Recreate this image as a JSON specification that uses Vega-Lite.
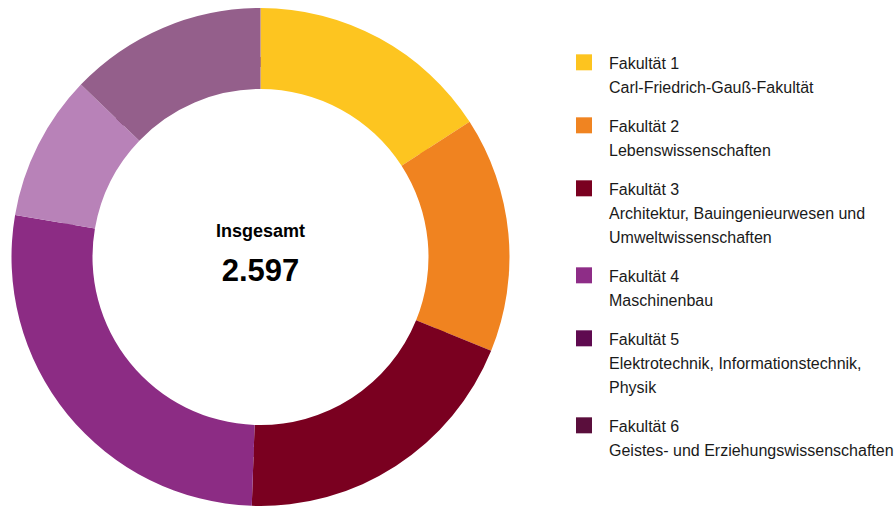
{
  "$schema": "https://vega.github.io/schema/vega-lite/v6.json",
  "width": 521,
  "height": 514,
  "padding": 0,
  "autosize": {"type": "pad"},
  "background": "white",
  "config": {
    "view": {"stroke": null},
    "font": "Liberation Sans",
    "locale": {"number": {"decimal": ",", "thousands": ".", "grouping": [3], "currency": ["", " €"]}}
  },
  "data": {
    "values": [
      {"fakultaet": "Fakultät 1|Carl-Friedrich-Gauß-Fakultät", "studierende": 412},
      {"fakultaet": "Fakultät 2|Lebenswissenschaften", "studierende": 397},
      {"fakultaet": "Fakultät 3|Architektur, Bauingenieurwesen und|Umweltwissenschaften", "studierende": 504},
      {"fakultaet": "Fakultät 4|Maschinenbau", "studierende": 705},
      {"fakultaet": "Fakultät 5|Elektrotechnik, Informationstechnik,|Physik", "studierende": 246},
      {"fakultaet": "Fakultät 6|Geistes- und Erziehungswissenschaften", "studierende": 333}
    ]
  },
  "layer": [
    {
      "mark": {"type": "arc", "outerRadius": 200, "innerRadius": 190},
      "encoding": {
        "theta": {"field": "studierende", "type": "quantitative", "stack": true},
        "order": {"field": "fakultaet", "type": "ordinal"},
        "color": {
          "field": "fakultaet",
          "type": "nominal",
          "scale": {"range": ["#FDC41F", "#F08421", "#7A0020", "#8E2D87", "#5F0A50", "#5A0E3C"]},
          "legend": {
            "orient": "none",
            "legendX": 576,
            "legendY": 48,
            "title": null,
            "padding": 0,
            "symbolType": "M-1,-0.21H1V1.79H-1Z",
            "symbolSize": 256,
            "symbolOpacity": 1,
            "symbolStrokeWidth": 0,
            "labelExpr": "split(datum.label, '|')",
            "labelFont": "Liberation Sans",
            "labelFontSize": 16,
            "labelBaseline": "top",
            "labelOffset": 17,
            "labelLimit": 400,
            "labelColor": "#1a1a1a",
            "rowPadding": 15,
            "encode": {"labels": {"update": {"lineHeight": {"value": 24}}}}
          }
        }
      }
    },
    {
      "mark": {"type": "arc", "outerRadius": 249, "innerRadius": 168},
      "encoding": {
        "theta": {"field": "studierende", "type": "quantitative", "stack": true},
        "order": {"field": "fakultaet", "type": "ordinal"},
        "fill": {
          "field": "fakultaet",
          "type": "nominal",
          "scale": {"range": ["#FDC520", "#F08320", "#7A0020", "#8C2C84", "#B882B8", "#945F8B"]},
          "legend": null
        }
      }
    },
    {
      "transform": [{"aggregate": [{"op": "sum", "field": "studierende", "as": "gesamt"}]}],
      "mark": {"type": "text", "fontSize": 31, "fontWeight": "bold", "dy": 15, "color": "#000000"},
      "encoding": {"text": {"field": "gesamt", "type": "quantitative", "format": ","}}
    },
    {
      "data": {"values": [{"titel": "Insgesamt"}]},
      "mark": {"type": "text", "fontSize": 18, "fontWeight": "bold", "dy": -25, "color": "#000000"},
      "encoding": {"text": {"field": "titel", "type": "nominal"}}
    }
  ]
}
